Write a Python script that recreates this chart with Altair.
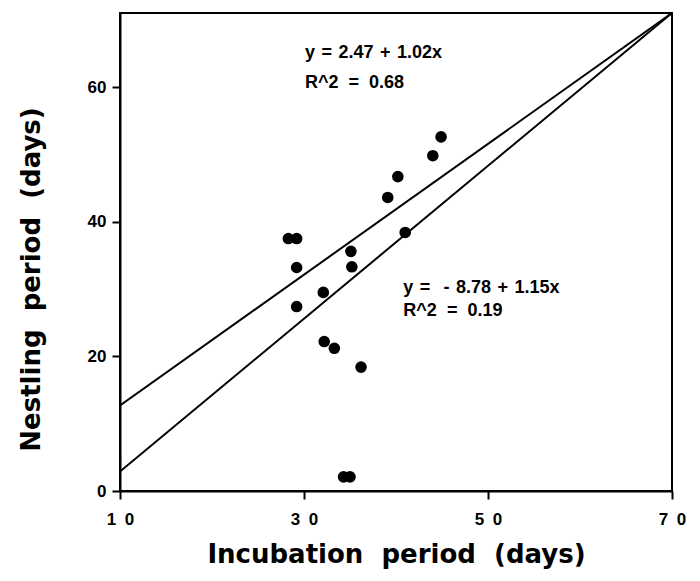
import altair as alt
import pandas as pd

# Scatter data (incubation period, nestling period)
incubation = [28.3, 29.2, 35.1, 29.2, 35.2, 41.0, 32.1, 29.2, 32.2, 33.3, 36.2,
              44.9, 44.0, 40.2, 39.1, 34.3, 35.0]
nestling = [37.5, 37.5, 35.6, 33.2, 33.3, 38.4, 29.5, 27.4, 22.2, 21.2, 18.4,
            52.6, 49.8, 46.7, 43.6, 2.1, 2.1]

# Fitted lines as drawn (endpoints)
fit_x = [10, 70]
fit1_y = [12.7, 71]
fit2_y = [2.9, 71]

# Annotation text
ann_text = ["y = 2.47 + 1.02x", "R^2 = 0.68", "y =  - 8.78 + 1.15x", "R^2 = 0.19"]
ann_x = [30.1, 30.1, 40.8, 40.8]
ann_y = [65.0, 60.6, 30.2, 26.8]

x_ticks = [10, 30, 50, 70]
y_ticks = [0, 20, 40, 60]

NB = "\u00a0"

pts = pd.DataFrame({"x": incubation, "y": nestling})
lines = pd.DataFrame({
    "x": fit_x + fit_x,
    "y": fit1_y + fit2_y,
    "fit": ["a", "a", "b", "b"],
})
ann = pd.DataFrame({"x": ann_x, "y": ann_y,
                    "t": [s.replace(" ", NB + NB if s.startswith("R") else NB + "\u200a")
                          for s in ann_text]})

xs = alt.Scale(domain=[10, 70], nice=False, zero=False)
ys = alt.Scale(domain=[0, 71], nice=False, zero=False)

x_axis = alt.Axis(values=x_ticks, title=f"Incubation{NB*2}period{NB*2}(days)",
                  labelExpr="join(split(datum.label, ''), '\u2002')", labelFlush=False,
                  labelPadding=12, titlePadding=14, titleFontSize=26, titleFontWeight="bold",
                  titleFont="DejaVu Sans",
                  labelFontSize=17, labelFontWeight="bold")
y_axis = alt.Axis(values=y_ticks, title=f"Nestling{NB*2}period{NB*2}(days)",
                  labelPadding=6, titlePadding=43, titleFontSize=26, titleFontWeight="bold",
                  titleFont="DejaVu Sans", titleY=266,
                  labelFontSize=17, labelFontWeight="bold")

points = alt.Chart(pts).mark_circle(size=135, color="black", opacity=1).encode(
    x=alt.X("x:Q", scale=xs, axis=x_axis),
    y=alt.Y("y:Q", scale=ys, axis=y_axis),
)

fit = alt.Chart(lines).mark_line(color="black", strokeWidth=2, clip=True).encode(
    x=alt.X("x:Q", scale=xs),
    y=alt.Y("y:Q", scale=ys),
    detail="fit:N",
)

text = alt.Chart(ann).mark_text(align="left", baseline="middle", fontSize=18, fontWeight="bold",
                                font="Liberation Sans", color="black").encode(
    x=alt.X("x:Q", scale=xs),
    y=alt.Y("y:Q", scale=ys),
    text="t:N",
)

chart = alt.layer(fit, points, text).properties(
    width=552, height=478,
    padding={"left": 120, "top": 13, "right": 28, "bottom": 90},
    autosize=alt.AutoSizeParams(type="none"),
    background="white",
).configure_view(stroke="black", strokeWidth=2).configure_axis(
    grid=False, domainColor="black", domainWidth=2, tickColor="black", tickWidth=2,
    tickSize=8, labelColor="black", titleColor="black", labelFont="Liberation Sans",
)

chart.save("out.html", embed_options={"renderer": "svg", "actions": False})
